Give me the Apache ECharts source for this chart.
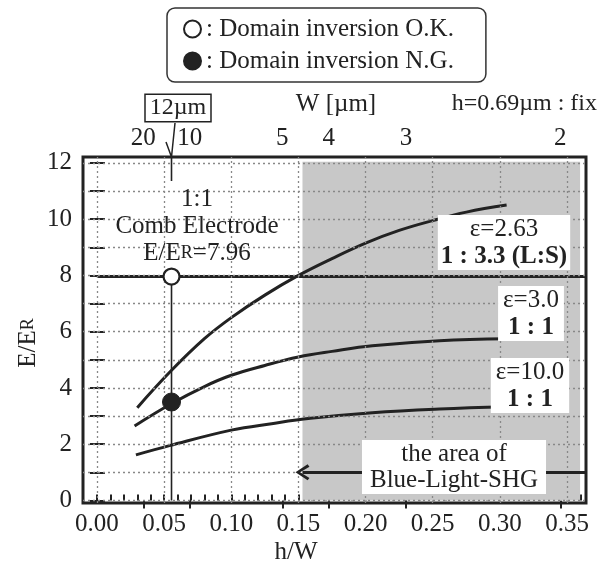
<!DOCTYPE html>
<html>
<head>
<meta charset="utf-8">
<script src="https://cdn.jsdelivr.net/npm/echarts@6/dist/echarts.min.js"></script>
<style>
  html, body { margin: 0; padding: 0; background: #fff; }
  #lineChart { width: 601px; height: 566px; }
</style>
</head>
<body>
<div id="lineChart"></div>
<script>
// h = 0.69um fixed, x = h/W
const H_UM = 0.69;
const xTickLabels = [0, 0.05, 0.10, 0.15, 0.20, 0.25, 0.30, 0.35];
const yTickLabels = [0, 2, 4, 6, 8, 10, 12];
const topW = [20, 10, 5, 4, 3, 2];
const gridX = [0, 0.05, 0.10, 0.15, 0.20, 0.25, 0.30, 0.35];
const gridY = [0, 1, 2, 3, 4, 5, 6, 7, 8, 9, 10, 11, 12];

// curves [h/W, E/Er]
const eps263 = [[0.03,3.3],[0.055,4.6],[0.08,5.75],[0.10,6.5],[0.125,7.3],[0.15,8.0],[0.175,8.6],[0.20,9.15],[0.225,9.6],[0.25,9.95],[0.275,10.25],[0.305,10.5]];
const eps30  = [[0.028,2.65],[0.055,3.43],[0.08,4.05],[0.10,4.45],[0.125,4.8],[0.15,5.1],[0.175,5.3],[0.205,5.5],[0.255,5.68],[0.305,5.75]];
const eps100 = [[0.029,1.62],[0.054,1.95],[0.10,2.5],[0.13,2.73],[0.159,2.92],[0.205,3.12],[0.255,3.25],[0.305,3.33]];

// comb electrode 1:1, W = 12um
const combX = [0, 0.364];
const combY = 7.96;
const markX = 0.0555;
const okPoint = [[markX, 7.96]];
const ngPoint = [[markX, 3.5]];

// blue-light SHG region
const shadeX = [0.153, 0.3597];
const shadeY = [0, 12.04];
const arrowY = 1.0;

// axis ranges (frame is a little wider than 0..0.35 / 0..12)
const xMin = -0.0104, xMax = 0.3641;
const yMin = -0.09, yMax = 12.21;

let xMinorTicks = [];
for (let i = 0; i <= 36; i++) xMinorTicks.push(i / 100);
let yMinorTicks = [];
for (let i = 0; i <= 12; i++) yMinorTicks.push(i);
const topTickVals = topW.map(w => H_UM / w);

const FONT = 'Liberation Serif';
const INK = '#222';

let lineChart = echarts.init(document.getElementById('lineChart'));

function curve(name, data) {
  return {
    type: 'line', name: name, data: data, smooth: 0.4,
    symbol: 'none', z: 4, silent: true,
    lineStyle: { color: INK, width: 3 }
  };
}

let tickStyle = { color: INK, width: 2 };

let option = {
  animation: false,
  backgroundColor: '#fff',
  grid: {
    left: 83, right: 15, top: 157, bottom: 63,
    show: true, borderColor: INK, borderWidth: 3, backgroundColor: '#fff',
    outerBoundsMode: 'none'
  },
  legend: {
    left: 167, top: 8,
    orient: 'vertical',
    data: ['Domain inversion O.K.', 'Domain inversion N.G.'],
    formatter: name => ': ' + name,
    icon: 'circle',
    itemWidth: 17, itemHeight: 17, itemGap: 2,
    padding: [6, 32, 6, 16],
    backgroundColor: '#fff',
    borderColor: '#333', borderWidth: 1.5, borderRadius: 8,
    selectedMode: false,
    textStyle: { fontFamily: FONT, fontSize: 25, color: INK, lineHeight: 30 }
  },
  xAxis: [{
    type: 'value', position: 'bottom', min: xMin, max: xMax,
    axisLine: { show: false },
    axisTick: { inside: true, length: 6, lineStyle: tickStyle, customValues: xMinorTicks },
    axisLabel: {
      customValues: xTickLabels, formatter: v => v.toFixed(2),
      fontFamily: FONT, fontSize: 25, color: INK, margin: 9
    },
    splitLine: { show: false }
  }, {
    type: 'value', position: 'top', min: xMin, max: xMax,
    axisLine: { show: false },
    axisTick: { inside: true, length: 8, lineStyle: tickStyle, customValues: topTickVals },
    axisLabel: {
      customValues: topTickVals, formatter: v => String(Math.round(H_UM / v)),
      fontFamily: FONT, fontSize: 25, color: INK, margin: 6
    },
    splitLine: { show: false }
  }],
  yAxis: [{
    type: 'value', position: 'left', min: yMin, max: yMax,
    axisLine: { show: false },
    axisTick: { inside: true, length: 8, lineStyle: tickStyle, customValues: yMinorTicks },
    axisLabel: {
      customValues: yTickLabels, fontFamily: FONT, fontSize: 25, color: INK, margin: 11
    },
    splitLine: { show: false }
  }, {
    type: 'value', position: 'right', min: yMin, max: yMax,
    axisLine: { show: false },
    axisTick: { inside: true, length: 7, lineStyle: tickStyle, customValues: yMinorTicks },
    axisLabel: { show: false },
    splitLine: { show: false }
  }],
  series: [
    {
      // shaded area + dotted grid
      type: 'line', name: 'shade', data: [], z: 1, silent: true,
      markArea: {
        silent: true,
        itemStyle: { color: '#c8c8c8' },
        data: [[{ xAxis: shadeX[0], yAxis: shadeY[0] }, { xAxis: shadeX[1], yAxis: shadeY[1] }]]
      },
      markLine: {
        silent: true, symbol: 'none', label: { show: false },
        lineStyle: { color: '#888', width: 1.3, type: [2, 3] },
        data: gridX.map(v => ({ xAxis: v })).concat(gridY.map(v => ({ yAxis: v })))
      }
    },
    {
      type: 'line', name: 'arrow', data: [], z: 3, silent: true,
      markLine: {
        silent: true,
        symbol: ['path://M10,0 L20,13 L17,15 L10,5 L3,15 L0,13 Z', 'none'],
        symbolSize: [16, 14],
        label: { show: false },
        lineStyle: { color: INK, width: 3, type: 'solid' },
        data: [[{ coord: [shadeX[0], arrowY] }, { coord: [xMax, arrowY] }]]
      }
    },
    curve('ε=2.63', eps263),
    curve('ε=3.0', eps30),
    curve('ε=10.0', eps100),
    {
      type: 'line', name: 'comb', data: combX.map(x => [x, combY]),
      symbol: 'none', z: 4, silent: true,
      lineStyle: { color: INK, width: 3 }
    },
    {
      type: 'line', name: 'guide', data: [[markX, 0], [markX, combY]],
      symbol: 'none', z: 4, silent: true,
      lineStyle: { color: INK, width: 1.6 }
    },
    {
      type: 'scatter', name: 'Domain inversion O.K.', data: okPoint,
      symbol: 'circle', symbolSize: 16, z: 6,
      itemStyle: { color: '#fff', borderColor: INK, borderWidth: 2.2, opacity: 1 }
    },
    {
      type: 'scatter', name: 'Domain inversion N.G.', data: ngPoint,
      symbol: 'circle', symbolSize: 18, z: 6,
      itemStyle: { color: INK, borderColor: INK, borderWidth: 1, opacity: 1 }
    }
  ],
  graphic: [
    {
      type: 'text', x: 28, y: 343, rotation: Math.PI / 2, z: 20,
      style: {
        text: 'E/E{r|R}', fontFamily: FONT, fontSize: 25, fill: INK,
        align: 'center', verticalAlign: 'middle',
        rich: { r: { fontFamily: FONT, fontSize: 18, fill: INK } }
      }
    },
    {
      type: 'text', x: 296, y: 552, z: 20,
      style: { text: 'h/W', fontFamily: FONT, fontSize: 25, fill: INK, align: 'center', verticalAlign: 'middle' }
    },
    {
      type: 'text', x: 336, y: 104, z: 20,
      style: { text: 'W [µm]', fontFamily: FONT, fontSize: 25, fill: INK, align: 'center', verticalAlign: 'middle' }
    },
    {
      type: 'text', x: 597, y: 104, z: 20,
      style: { text: 'h=0.69µm : fix', fontFamily: FONT, fontSize: 24, fill: INK, align: 'right', verticalAlign: 'middle' }
    },
    {
      type: 'text', x: 178, y: 108, z: 20,
      style: {
        text: '12µm', fontFamily: FONT, fontSize: 24, fill: INK, align: 'center', verticalAlign: 'middle',
        borderColor: INK, borderWidth: 1.5, padding: [2, 4, 0, 4], backgroundColor: '#fff'
      }
    },
    {
      type: 'polyline', z: 20,
      shape: { points: [[166, 142], [171.5, 157], [175, 123]] },
      style: { stroke: INK, lineWidth: 1.5, fill: null }
    },
    {
      type: 'line', z: 20,
      shape: { x1: 171.5, y1: 156, x2: 171.5, y2: 181 },
      style: { stroke: INK, lineWidth: 1.6 }
    },
    {
      type: 'text', x: 197, y: 186, z: 20,
      style: {
        text: '1:1\nComb Electrode\nE/E{r|R}=7.96', fontFamily: FONT, fontSize: 25, lineHeight: 27,
        fill: INK, align: 'center', verticalAlign: 'top',
        rich: { r: { fontFamily: FONT, fontSize: 18, lineHeight: 27, fill: INK } }
      }
    },
    {
      type: 'text', x: 504, y: 215, z: 20,
      style: {
        text: 'ε=2.63\n{b|1 : 3.3 (L:S)}', fontFamily: FONT, fontSize: 25, lineHeight: 27,
        fill: INK, align: 'center', verticalAlign: 'top', backgroundColor: '#fff', padding: [1, 3, 0, 3],
        rich: { b: { fontFamily: FONT, fontSize: 25, fontWeight: 'bold', lineHeight: 27, fill: INK } }
      }
    },
    {
      type: 'text', x: 531, y: 286, z: 20,
      style: {
        text: 'ε=3.0\n{b|1 : 1}', fontFamily: FONT, fontSize: 25, lineHeight: 27,
        fill: INK, align: 'center', verticalAlign: 'top', backgroundColor: '#fff', padding: [1, 5, 0, 5],
        rich: { b: { fontFamily: FONT, fontSize: 25, fontWeight: 'bold', lineHeight: 27, fill: INK } }
      }
    },
    {
      type: 'text', x: 530, y: 358, z: 20,
      style: {
        text: 'ε=10.0\n{b|1 : 1}', fontFamily: FONT, fontSize: 25, lineHeight: 27,
        fill: INK, align: 'center', verticalAlign: 'top', backgroundColor: '#fff', padding: [1, 5, 0, 5],
        rich: { b: { fontFamily: FONT, fontSize: 25, fontWeight: 'bold', lineHeight: 27, fill: INK } }
      }
    },
    {
      type: 'text', x: 454, y: 440, z: 20,
      style: {
        text: 'the area of\nBlue-Light-SHG', fontFamily: FONT, fontSize: 25, lineHeight: 26,
        fill: INK, align: 'center', verticalAlign: 'top', backgroundColor: '#fff', padding: [1, 8, 1, 8]
      }
    }
  ]
};

lineChart.setOption(option);
window.addEventListener('resize', () => lineChart.resize());
</script>
</body>
</html>
